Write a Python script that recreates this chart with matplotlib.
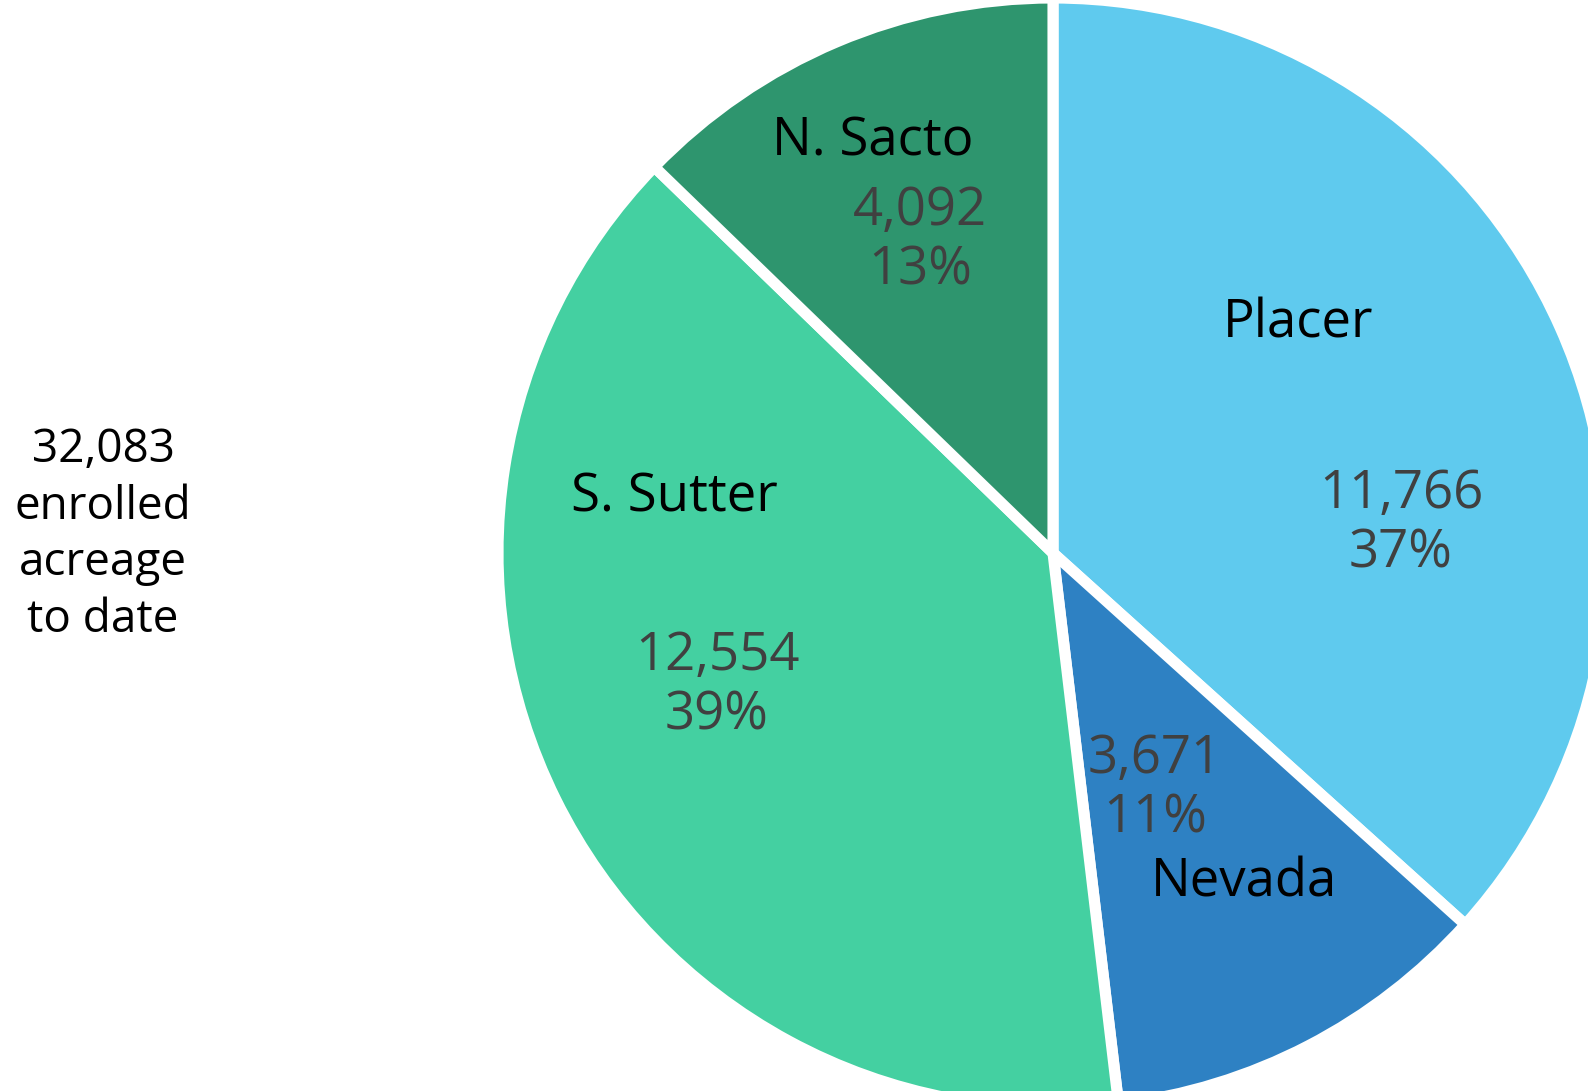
import matplotlib.pyplot as plt

# acreage by region, clockwise from the top
regions = ["Placer", "Nevada", "S. Sutter", "N. Sacto"]
acres = [11766, 3671, 12554, 4092]
colors = ["#5FCAEE", "#2E81C3", "#44D0A1", "#2E956E"]

# label positions in pixels (x, y from top) for name and value
name_pos = [(1298, 324), (1244, 883), (674, 498), (873, 142)]
value_pos = [(1401, 524), (1155, 789), (717, 686), (920, 241)]

W, H = 1588, 1091
plt.rcParams["font.family"] = ["Open Sans", "DejaVu Sans"]

fig = plt.figure(figsize=(W / 100, H / 100), dpi=100)
ax = fig.add_axes([0, 0, 1, 1])

ax.pie(acres, colors=colors, startangle=90, counterclock=False,
       center=(1053, H - 553), radius=555, frame=True,
       wedgeprops=dict(edgecolor="white", linewidth=8))
ax.set_xlim(0, W)
ax.set_ylim(0, H)
ax.axis("off")

total = sum(acres)
for name, val, (nx, ny), (vx, vy) in zip(regions, acres, name_pos, value_pos):
    ax.text(nx, H - ny, name, ha="center", va="center", fontsize=38, color="black")
    pct = round(val / total * 100)
    ax.text(vx, H - vy, f"{val:,}\n{pct}%", ha="center", va="center",
            fontsize=38, color="#404040", linespacing=1.15)

ax.text(103, H - 535, f"{total:,}\nenrolled\nacreage\nto date", ha="center", va="center",
        fontsize=33, color="black", linespacing=1.3)

fig.savefig("out.png", dpi=100)
